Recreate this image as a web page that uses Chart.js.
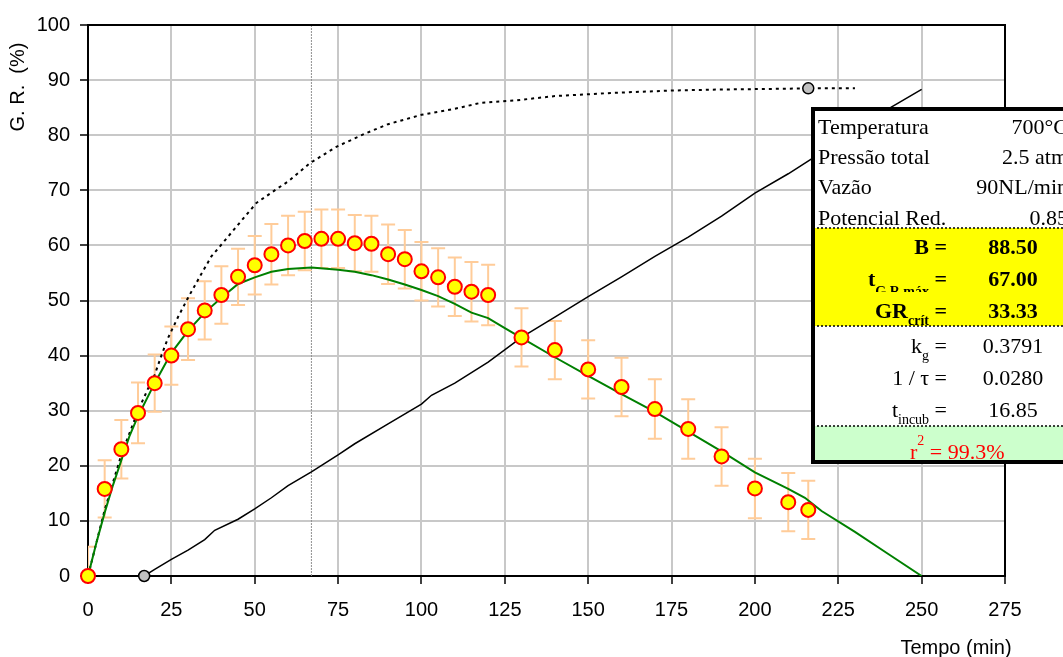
<!DOCTYPE html>
<html>
<head>
<meta charset="utf-8">
<script src="https://cdn.jsdelivr.net/npm/chart.js@4.4.1/dist/chart.umd.min.js"></script>
<style>
  html, body { margin: 0; padding: 0; background: #fff; overflow: hidden; }
</style>
</head>
<body>
<canvas id="grChart" width="1063" height="657"></canvas>
<script>
// pontos medidos: tempo (min), G.R. (%) e desvio
const tempos = [0, 5, 10, 15, 20, 25, 30, 35, 40, 45, 50, 55, 60, 65, 70, 75, 80, 85, 90, 95, 100, 105, 110, 115, 120, 130, 140, 150, 160, 170, 180, 190, 200, 210, 216];
const grMedido = [0, 15.8, 23.0, 29.6, 35.0, 40.0, 44.8, 48.2, 51.0, 54.3, 56.4, 58.4, 60.0, 60.8, 61.2, 61.2, 60.4, 60.3, 58.4, 57.5, 55.3, 54.2, 52.5, 51.6, 51.0, 43.3, 41.0, 37.5, 34.3, 30.3, 26.7, 21.7, 15.9, 13.4, 12.0];
const grErro = [5.3, 5.2, 5.3, 5.5, 5.2, 5.3, 5.6, 5.3, 5.2, 5.1, 5.3, 5.5, 5.4, 5.3, 5.3, 5.3, 5.1, 5.1, 5.4, 5.3, 5.3, 5.3, 5.3, 5.4, 5.5, 5.3, 5.3, 5.3, 5.3, 5.4, 5.4, 5.3, 5.4, 5.3, 5.3];

// curva ajustada (verde)
const ajusteT = [0, 2.5, 5, 7.5, 10, 12.5, 15, 20, 25, 30, 35, 40, 45, 50, 55, 60, 67, 75, 80, 85, 90, 95, 100, 105, 110, 115, 120, 125, 130, 140, 150, 160, 170, 180, 190, 200, 210, 215, 220, 230, 240, 250];
const ajusteGR = [0, 6, 11.5, 16.5, 21, 25.5, 29, 35, 40.5, 44.5, 47.8, 50.5, 53, 54.2, 55.2, 55.7, 56, 55.6, 55.2, 54.6, 53.8, 52.9, 51.9, 50.8, 49.4, 47.8, 46.8, 45, 43.2, 39.7, 36.3, 33, 29.8, 26.2, 22.6, 18.8, 15.8, 14.2, 11.8, 8, 4, 0];

// curva preta contínua (a partir de t incub)
const linhaT = [16.85, 20, 25, 30, 35, 38, 45, 50, 55, 60, 67, 75, 80, 90, 100, 103, 110, 120, 130, 140, 150, 160, 170, 180, 190, 200, 210, 217, 225, 235, 250];
const linhaGR = [0, 1.2, 3, 4.7, 6.6, 8.3, 10.3, 12.2, 14.2, 16.4, 18.9, 22, 24, 27.6, 31.2, 32.8, 35, 38.8, 43.3, 47, 50.7, 54.3, 58, 61.5, 65.3, 69.5, 73, 75.7, 79, 83, 88.3];

// curva tracejada (acumulada, tende a B)
const tracoT = [0, 5, 10, 15, 18, 20, 22, 24, 27, 30, 33.5, 37, 40.5, 44.5, 50.5, 56.5, 60, 66.5, 74.5, 83.5, 90, 100, 110, 118, 128, 140, 158, 175, 190, 205, 216, 230];
const tracoGR = [0, 12, 22, 30, 34, 36.5, 40, 43.2, 47, 50.5, 54.3, 58, 60.5, 63.4, 67.7, 70.2, 71.6, 74.9, 77.9, 80.4, 82, 83.7, 84.8, 85.9, 86.3, 87.1, 87.7, 88.1, 88.3, 88.4, 88.5, 88.5];

// marcadores cinza e linha vertical em t G.R máx
const marcadorT = [16.85, 216];
const marcadorGR = [0, 88.5];
const verticalT = [67, 67];
const verticalGR = [0, 100];

// tabela
const condLabels = ['Temperatura', 'Pressão total', 'Vazão', 'Potencial Red.'];
const condValues = ['700°C', '2.5 atm', '90NL/min', '0.85'];
const fitLabels = [['B', ''], ['t', 'G.R máx'], ['GR', 'crít']];
const fitValues = ['88.50', '67.00', '33.33'];
const kinLabels = [['k', 'g'], ['1 / τ', ''], ['t', 'incub']];
const kinValues = ['0.3791', '0.0280', '16.85'];
const r2Value = '99.3%';

const pts = (xs, ys) => xs.map((x, i) => ({ x: x, y: ys[i] }));

const SANS = '"Liberation Sans", Arial, sans-serif';
const SERIF = '"Liberation Serif", "Times New Roman", serif';

function rotulo(ctx, main, sub, rightX, base, bold, clipY) {
    const w = bold ? 'bold ' : '';
    ctx.font = w + '22px ' + SERIF;
    const wEq = ctx.measureText(' =').width;
    const wMain = ctx.measureText(main).width;
    ctx.font = w + '14px ' + SERIF;
    const wSub = sub ? ctx.measureText(sub).width : 0;
    let x0 = rightX - wEq - wSub - wMain;
    ctx.textAlign = 'left';
    ctx.font = w + '22px ' + SERIF;
    ctx.fillText(main, x0, base);
    ctx.fillText(' =', rightX - wEq, base);
    if (sub) {
        ctx.save();
        if (clipY) {
            ctx.beginPath();
            ctx.rect(x0, base - 30, 200, clipY - base + 30);
            ctx.clip();
        }
        ctx.font = w + '14px ' + SERIF;
        ctx.fillText(sub, x0 + wMain, base + (clipY ? 10 : 7));
        ctx.restore();
    }
}

const extras = {
    id: 'extras',
    beforeDatasetsDraw(chart) {
        const { ctx, chartArea, scales: { x, y } } = chart;
        ctx.save();
        ctx.beginPath();
        ctx.rect(chartArea.left, chartArea.top, chartArea.width, chartArea.height);
        ctx.clip();
        ctx.strokeStyle = '#FFCC99';
        ctx.lineWidth = 2;
        tempos.forEach((t, i) => {
            const px = x.getPixelForValue(t);
            const top = y.getPixelForValue(grMedido[i] + grErro[i]);
            const bot = y.getPixelForValue(grMedido[i] - grErro[i]);
            ctx.beginPath();
            ctx.moveTo(px, top); ctx.lineTo(px, bot);
            ctx.moveTo(px - 7, top); ctx.lineTo(px + 7, top);
            ctx.moveTo(px - 7, bot); ctx.lineTo(px + 7, bot);
            ctx.stroke();
        });
        ctx.restore();
    },
    afterDraw(chart) {
        const { ctx, chartArea } = chart;
        ctx.save();
        // moldura superior e direita
        ctx.strokeStyle = '#000';
        ctx.lineWidth = 2;
        ctx.beginPath();
        ctx.moveTo(chartArea.left, chartArea.top);
        ctx.lineTo(chartArea.right, chartArea.top);
        ctx.lineTo(chartArea.right, chartArea.bottom);
        ctx.stroke();

        // títulos dos eixos
        ctx.fillStyle = '#000';
        ctx.font = '20px ' + SANS;
        ctx.textAlign = 'center';
        ctx.textBaseline = 'middle';
        ctx.fillText('Tempo (min)', 956, 648);
        ctx.translate(18, 87);
        ctx.rotate(-Math.PI / 2);
        ctx.fillText('G. R.  (%)', 0, 0);
        ctx.restore();

        // tabela de parâmetros
        const L = 813, T = 109, R = 1100, B = 462;
        ctx.save();
        ctx.fillStyle = '#fff';
        ctx.fillRect(L, T, R - L, 228 - T);
        ctx.fillStyle = '#FFFF00';
        ctx.fillRect(L, 228, R - L, 98);
        ctx.fillStyle = '#fff';
        ctx.fillRect(L, 326, R - L, 100);
        ctx.fillStyle = '#CCFFCC';
        ctx.fillRect(L, 426, R - L, B - 426);
        ctx.strokeStyle = '#000';
        ctx.lineWidth = 1.5;
        ctx.setLineDash([2, 2]);
        [228, 326, 426].forEach(yy => {
            ctx.beginPath();
            ctx.moveTo(L, yy); ctx.lineTo(R, yy);
            ctx.stroke();
        });
        ctx.setLineDash([]);

        ctx.fillStyle = '#000';
        ctx.textBaseline = 'alphabetic';
        const condBase = [134, 164, 194, 225];
        condLabels.forEach((lab, i) => {
            ctx.font = '22px ' + SERIF;
            ctx.textAlign = 'left';
            ctx.fillText(lab, 818, condBase[i]);
            ctx.textAlign = 'right';
            ctx.fillText(condValues[i], 1068, condBase[i]);
        });

        const fitBase = [254, 286, 318];
        fitLabels.forEach((lab, i) => {
            rotulo(ctx, lab[0], lab[1], 947, fitBase[i], true, i === 1 ? 292 : 0);
            ctx.font = 'bold 22px ' + SERIF;
            ctx.textAlign = 'center';
            ctx.fillText(fitValues[i], 1013, fitBase[i]);
        });

        const kinBase = [353, 385, 417];
        kinLabels.forEach((lab, i) => {
            rotulo(ctx, lab[0], lab[1], 947, kinBase[i], false, 0);
            ctx.font = '22px ' + SERIF;
            ctx.textAlign = 'center';
            ctx.fillText(kinValues[i], 1013, kinBase[i]);
        });

        // r²
        ctx.fillStyle = '#FF0000';
        ctx.textAlign = 'left';
        ctx.font = '22px ' + SERIF;
        ctx.fillText('r', 910, 459);
        const wr = ctx.measureText('r').width;
        ctx.font = '14px ' + SERIF;
        ctx.fillText('2', 910 + wr, 445);
        const w2 = ctx.measureText('2').width;
        ctx.font = '22px ' + SERIF;
        ctx.fillText(' = ' + r2Value, 910 + wr + w2, 459);

        ctx.lineWidth = 4;
        ctx.strokeStyle = '#000';
        ctx.strokeRect(L, T, R - L, B - T);
        ctx.restore();
    }
};

const gridCfg = {
    color: '#C8C8C8',
    lineWidth: 2,
    tickLength: 8,
    tickColor: '#000',
    tickWidth: 1.5
};

new Chart(document.getElementById('grChart'), {
    type: 'scatter',
    data: {
        datasets: [
            {
                label: 'G.R. medido',
                data: pts(tempos, grMedido),
                pointRadius: 7,
                pointBorderWidth: 2,
                pointBackgroundColor: '#FFFF00',
                pointBorderColor: '#FF0000',
                showLine: false,
                clip: false,
                order: 0
            },
            {
                label: 'marcadores',
                data: pts(marcadorT, marcadorGR),
                pointRadius: 5.5,
                pointBorderWidth: 1.5,
                pointBackgroundColor: '#C0C0C0',
                pointBorderColor: '#000',
                showLine: false,
                clip: false,
                order: 1
            },
            {
                label: 'ajuste',
                data: pts(ajusteT, ajusteGR),
                showLine: true,
                borderColor: '#008000',
                borderWidth: 2,
                pointRadius: 0,
                order: 2
            },
            {
                label: 'linha',
                data: pts(linhaT, linhaGR),
                showLine: true,
                borderColor: '#000',
                borderWidth: 1.5,
                pointRadius: 0,
                order: 3
            },
            {
                label: 'tracejada',
                data: pts(tracoT, tracoGR),
                showLine: true,
                borderColor: '#000',
                borderWidth: 2,
                borderDash: [3, 4],
                pointRadius: 0,
                order: 4
            },
            {
                label: 't max',
                data: pts(verticalT, verticalGR),
                showLine: true,
                borderColor: '#909090',
                borderWidth: 1,
                borderDash: [2, 1],
                pointRadius: 0,
                order: 5
            }
        ]
    },
    options: {
        responsive: false,
        animation: false,
        layout: { padding: { top: 25, right: 58, left: 0, bottom: 0 } },
        plugins: {
            legend: { display: false },
            tooltip: { enabled: false }
        },
        scales: {
            x: {
                type: 'linear',
                min: 0,
                max: 275,
                ticks: { stepSize: 25, color: '#000', font: { family: SANS, size: 20 }, padding: 14, maxRotation: 0 },
                grid: gridCfg,
                border: { color: '#000', width: 2 },
                afterFit(scale) { scale.height = 81; }
            },
            y: {
                min: 0,
                max: 100,
                ticks: { stepSize: 10, color: '#000', font: { family: SANS, size: 20 }, padding: 10 },
                grid: gridCfg,
                border: { color: '#000', width: 2 },
                afterFit(scale) { scale.width = 88; }
            }
        }
    },
    plugins: [extras]
});
</script>
</body>
</html>
